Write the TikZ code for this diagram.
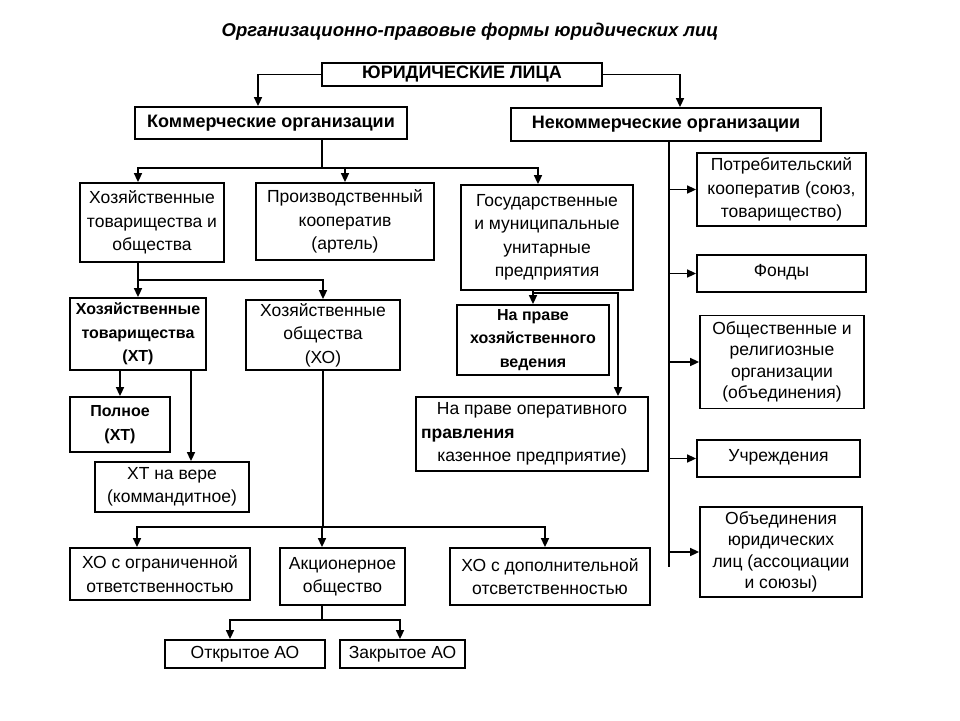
\documentclass[tikz,border=0pt]{standalone}
\usepackage{fontspec}
\setmainfont{Liberation Sans}
\usetikzlibrary{arrows.meta}
\begin{document}
\begin{tikzpicture}[x=1pt,y=-1pt,
  bx/.style={draw, line width=1.8pt, align=center, inner sep=0pt, font=\fontsize{17.5}{23.5}\selectfont},
  tbx/.style={bx, font=\fontsize{17.5}{21.5}\selectfont},
  bbx/.style={bx, font=\fontsize{16}{23.5}\selectfont\bfseries},
  hbx/.style={bx, font=\fontsize{18}{20}\selectfont\bfseries},
  arr/.style={line width=1.6pt, -{Triangle[length=9pt,width=8pt]}},
  ln/.style={line width=1.6pt}]
\useasboundingbox (0,0) rectangle (960,720);
\node (title) at (470,32) {\fontsize{18.5}{20}\selectfont\bfseries\itshape Организационно-правовые формы юридических лиц};
\node[hbx, minimum width=280pt, minimum height=23pt] (top) at (462,74.5) {ЮРИДИЧЕСКИЕ ЛИЦА};
\node[hbx, minimum width=272pt, minimum height=32pt] (kom) at (271,123) {Коммерческие организации};
\node[hbx, minimum width=310pt, minimum height=33pt] (nekom) at (666,124.5) {Некоммерческие организации};
\node[bx, minimum width=144pt, minimum height=79pt] (hto) at (152,222.5) {Хозяйственные\\товарищества и\\общества};
\node[bx, minimum width=178pt, minimum height=77pt] (prk) at (345,221.5) {Производственный\\кооператив\\(артель)};
\node[bx, minimum width=172pt, minimum height=105pt] (gmup) at (547,237.5) {Государственные\\и муниципальные\\унитарные\\предприятия};
\node[bbx, minimum width=136pt, minimum height=72pt] (ht) at (138,334) {Хозяйственные\\товарищества\\(ХТ)};
\node[bx, minimum width=154pt, minimum height=70pt] (ho) at (323,335) {Хозяйственные\\общества\\(ХО)};
\node[bbx, minimum width=100pt, minimum height=55pt] (pol) at (120,424.5) {Полное\\(ХТ)};
\node[bx, minimum width=154pt, minimum height=50pt] (htv) at (172,487) {ХТ на вере\\(коммандитное)};
\node[bbx, minimum width=152pt, minimum height=70pt] (hxv) at (533,340) {На праве\\хозяйственного\\ведения};
\node[bx, minimum width=232pt, minimum height=74pt] (opr) at (532,434) {На праве оперативного\\\makebox[222pt][l]{\textbf{правления}}\\казенное предприятие)};
\node[bx, minimum width=180pt, minimum height=52pt] (ooo) at (160,574) {ХО с ограниченной\\ответственностью};
\node[bx, minimum width=125pt, minimum height=57pt] (ao) at (342.5,576.5) {Акционерное\\общество};
\node[bx, minimum width=200pt, minimum height=57pt] (odo) at (550,576.5) {ХО с дополнительной\\отсветственностью};
\node[bx, minimum width=160pt, minimum height=28pt] (oao) at (245,654) {Открытое АО};
\node[bx, minimum width=125pt, minimum height=28pt] (zao) at (402.5,654) {Закрытое АО};
\node[bx, minimum width=169pt, minimum height=73pt] (potr) at (781.5,189.5) {Потребительский\\кооператив (союз,\\товарищество)};
\node[bx, minimum width=169pt, minimum height=37pt] (fond) at (781.5,273.5) {\raisebox{6pt}{Фонды}};
\node[tbx, minimum width=164pt, minimum height=93pt] (obsh) at (782,362) {Общественные и\\религиозные\\организации\\(объединения)};
\node[bx, minimum width=163pt, minimum height=37pt] (uchr) at (778.5,458.5) {\raisebox{6pt}{Учреждения}};
\node[tbx, minimum width=162pt, minimum height=90pt] (obed) at (781,552) {Объединения\\юридических\\лиц (ассоциации\\и союзы)};
% top level
\draw[arr] (top.west) -| ([xshift=-13pt]kom.north);
\draw[arr] (top.east) -| ([xshift=14pt]nekom.north);
% commercial
\coordinate (k1) at (322,168);
\draw[ln] (kom.south -| k1) -- (k1);
\draw[arr] (k1) -| ([xshift=-14pt]hto.north);
\draw[arr] (k1) -| (prk.north);
\draw[arr] (k1) -| ([xshift=-9pt]gmup.north);
% hto
\coordinate (h1) at (138,280);
\draw[ln] (hto.south -| h1) -- (h1);
\draw[arr] (h1) -- (ht.north -| h1);
\draw[arr] (h1) -| (ho.north);
% ht
\draw[arr] (ht.south -| pol.north) -- (pol.north);
\coordinate (t1) at (191,370);
\draw[arr] (ht.south -| t1) -- (htv.north -| t1);
% ho
\coordinate (o1) at (323,527);
\draw[ln] (ho.south) -- (o1);
\draw[arr] (o1) -| ([xshift=-23pt]ooo.north);
\draw[arr] (o1) -| ([xshift=-20.5pt]ao.north);
\draw[arr] (o1) -| ([xshift=-5pt]odo.north);
% ao
\coordinate (a1) at (322,620);
\draw[ln] ([xshift=-20.5pt]ao.south) -- (a1);
\draw[arr] (a1) -| ([xshift=-15pt]oao.north);
\draw[arr] (a1) -| ([xshift=-2.5pt]zao.north);
% gmup
\coordinate (g1) at (533,293);
\draw[arr] (gmup.south -| g1) -- (hxv.north -| g1);
\draw[arr] (g1) -| ([xshift=86pt]opr.north);
% non-commercial
\coordinate (n1) at (669,567);
\draw[ln] (nekom.south -| n1) -- (n1);
\foreach \t in {potr,fond,obsh,uchr,obed}
  \draw[arr] (\t.west -| n1) -- (\t.west);
\end{tikzpicture}
\end{document}
